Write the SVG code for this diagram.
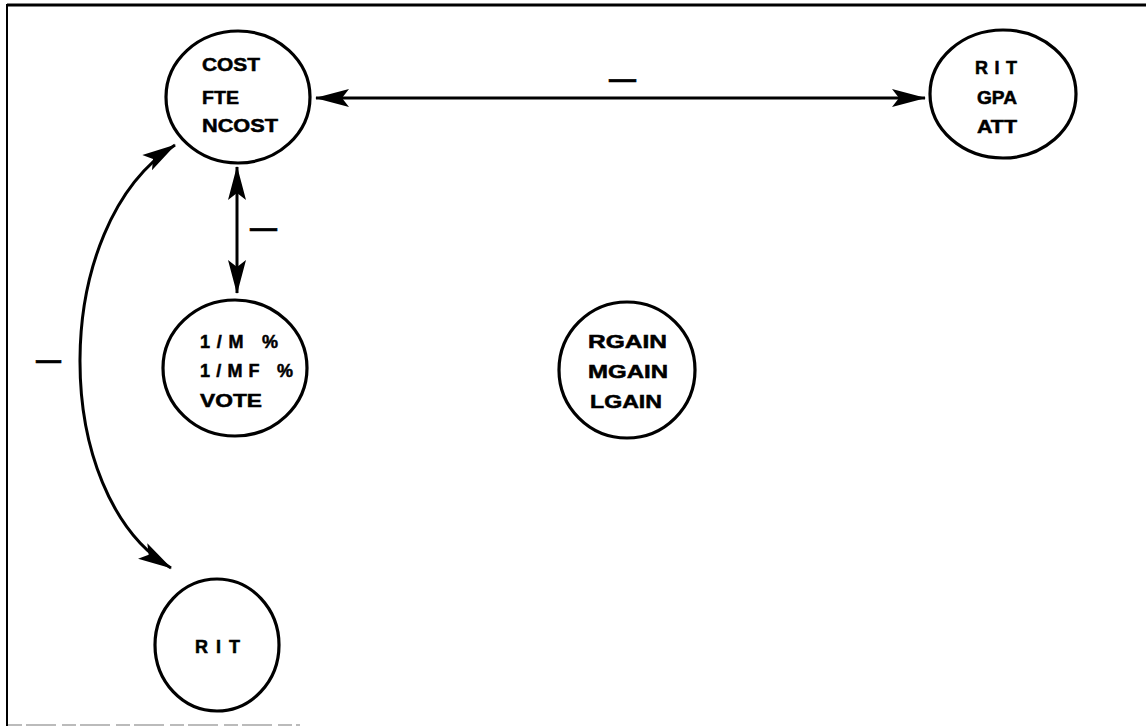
<svg xmlns="http://www.w3.org/2000/svg" width="1146" height="728" viewBox="0 0 1146 728">
<style>
.node{fill:none;stroke:#000;stroke-width:3.2}
.lbl{font-family:"Liberation Sans",Arial,sans-serif;font-weight:bold;font-size:18px;fill:#000;stroke:#000;stroke-width:0.5}
.sign{font-family:"Liberation Sans",Arial,sans-serif;font-weight:bold;font-size:26px;fill:#000;stroke:#000;stroke-width:0.6}
.conn{fill:none;stroke:#000;stroke-width:3}
</style>
<defs>
<marker id="ah" viewBox="-34 -10 36 20" refX="0" refY="0" markerWidth="36" markerHeight="20" markerUnits="userSpaceOnUse" orient="auto-start-reverse">
<path d="M1,0 L-33,-9 L-26,0 L-33,9 Z" fill="#000"/>
</marker>
</defs>
<rect width="1146" height="728" fill="#fff"/>
<g id="frame">
<line x1="7" y1="5" x2="1146" y2="5" stroke="#000" stroke-width="3"/>
<line x1="7" y1="4" x2="7" y2="726" stroke="#000" stroke-width="2"/>
<line x1="8" y1="725" x2="300" y2="725" stroke="#bbb" stroke-width="2" stroke-dasharray="14 4 30 6"/>
</g>
<g id="connectors">
<line class="conn" x1="316" y1="98" x2="925" y2="98" marker-start="url(#ah)" marker-end="url(#ah)"/>
<line class="conn" x1="237" y1="167" x2="237" y2="293" marker-start="url(#ah)" marker-end="url(#ah)"/>
<path class="conn" d="M175,145 C49,225 49,495 171,568" marker-start="url(#ah)" marker-end="url(#ah)"/>
<text class="sign" x="609" y="88" textLength="27" lengthAdjust="spacingAndGlyphs">—</text>
<text class="sign" x="250" y="237" textLength="27" lengthAdjust="spacingAndGlyphs">—</text>
<text class="sign" x="36" y="369" textLength="25" lengthAdjust="spacingAndGlyphs">—</text>
</g>
<g id="node-cost">
<ellipse class="node" cx="238" cy="97" rx="72" ry="66"/>
<text class="lbl" x="202" y="71" textLength="58" lengthAdjust="spacingAndGlyphs">COST</text>
<text class="lbl" x="202" y="104" textLength="37" lengthAdjust="spacingAndGlyphs">FTE</text>
<text class="lbl" x="202" y="132" textLength="76" lengthAdjust="spacingAndGlyphs">NCOST</text>
</g>
<g id="node-rit-gpa">
<ellipse class="node" cx="1003" cy="94" rx="73" ry="64"/>
<text class="lbl" x="975" y="74" textLength="42" lengthAdjust="spacing">RIT</text>
<text class="lbl" x="977" y="104" textLength="40" lengthAdjust="spacingAndGlyphs">GPA</text>
<text class="lbl" x="977" y="133" textLength="40" lengthAdjust="spacingAndGlyphs">ATT</text>
</g>
<g id="node-vote">
<ellipse class="node" cx="235" cy="368" rx="72" ry="68"/>
<text class="lbl" x="200" y="348" textLength="78" lengthAdjust="spacing">1/M %</text>
<text class="lbl" x="200" y="377" textLength="93" lengthAdjust="spacing">1/MF %</text>
<text class="lbl" x="200" y="407" textLength="62" lengthAdjust="spacingAndGlyphs">VOTE</text>
</g>
<g id="node-gain">
<ellipse class="node" cx="627" cy="370" rx="68" ry="68"/>
<text class="lbl" x="588" y="348" textLength="79" lengthAdjust="spacingAndGlyphs">RGAIN</text>
<text class="lbl" x="588" y="378" textLength="80" lengthAdjust="spacingAndGlyphs">MGAIN</text>
<text class="lbl" x="590" y="408" textLength="72" lengthAdjust="spacingAndGlyphs">LGAIN</text>
</g>
<g id="node-rit">
<ellipse class="node" cx="217" cy="645" rx="62" ry="66"/>
<text class="lbl" x="195" y="653" textLength="45" lengthAdjust="spacing">RIT</text>
</g>
</svg>
